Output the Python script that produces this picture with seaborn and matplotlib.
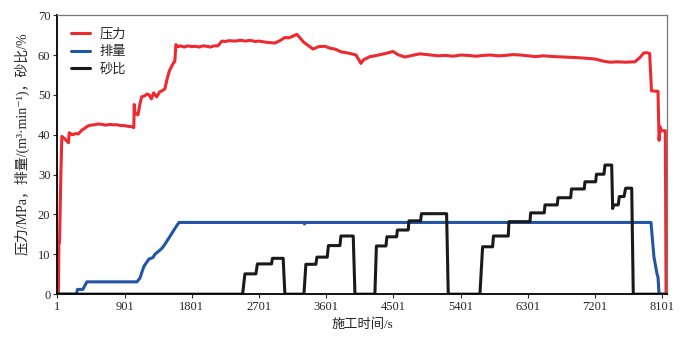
import pandas as pd
import matplotlib.pyplot as plt
import seaborn as sns

# pressure (MPa)
p_time = [1, 15, 22, 30, 48, 61, 100, 150, 160, 200, 250, 280, 320, 409, 450, 500, 550, 600, 650, 700,
          750, 800, 850, 900, 950, 1000, 1025, 1030, 1040, 1060, 1080, 1110, 1130, 1173, 1200, 1230,
          1260, 1290, 1330, 1373, 1400, 1440, 1470, 1500, 1540, 1574, 1588, 1620, 1650, 1700, 1750,
          1800, 1850, 1900, 1950, 2000, 2050, 2100, 2150, 2204, 2250, 2300, 2380, 2450, 2520, 2578,
          2650, 2700, 2800, 2913, 2980, 3047, 3100, 3150, 3208, 3300, 3423, 3500, 3583, 3650, 3717,
          3800, 3918, 4000, 4065, 4100, 4186, 4250, 4300, 4400, 4494, 4560, 4654, 4750, 4855, 4950,
          5000, 5100, 5200, 5300, 5400, 5500, 5600, 5700, 5800, 5900, 6000, 6100, 6200, 6300, 6400,
          6500, 6662, 6800, 6900, 7000, 7131, 7200, 7300, 7399, 7500, 7600, 7734, 7801, 7850, 7895,
          7930, 7955, 8042, 8056, 8070, 8090, 8140, 8150]
p_value = [0, 0.5, 13, 13, 30, 39.6, 39, 38, 40.5, 40, 40.3, 40.2, 41, 42.2, 42.4, 42.5, 42.7, 42.6, 42.4, 42.6,
           42.5, 42.5, 42.3, 42.3, 42.1, 42, 41.8, 47.6, 45.5, 45.2, 45, 48, 49.5, 49.8, 50.2, 50,
           49, 50.5, 49.5, 50.8, 51, 51.5, 54, 56, 57.5, 58.5, 62.6, 62.1, 62.3, 62.0, 62.3,
           62.1, 62.2, 62.0, 62.3, 62.2, 62.0, 62.3, 62.3, 63.5, 63.4, 63.6, 63.5, 63.7, 63.5, 63.7,
           63.4, 63.5, 63.2, 63, 63.6, 64.4, 64.3, 64.7, 65.2, 63.2, 61.5, 62.1, 62.2, 61.7, 61.5,
           60.8, 60.4, 60, 57.9, 58.8, 59.6, 59.8, 60, 60.4, 60.9, 60.1, 59.5, 59.9, 60.3, 60.1,
           60, 59.8, 59.9, 59.7, 60, 59.9, 59.7, 59.9, 60, 59.8, 59.9, 60.1, 60, 59.8, 59.6,
           59.8, 59.6, 59.5, 59.4, 59.3, 59.1, 59.0, 58.5, 58.2, 58.3, 58.2, 58.3, 59.4, 60.5, 60.6,
           60.4, 51, 50.9, 38.6, 42, 41, 41, 0]

# displacement (m3/min)
q_time = [1, 258, 270, 342, 396, 1066, 1106, 1160, 1226, 1280, 1307, 1370, 1401, 1440, 1508, 1575,
          1629, 3300, 3310, 3320, 7948, 7988, 8030, 8042, 8056, 8100]
q_value = [0, 0, 1.2, 1.2, 3.1, 3.1, 4, 7, 8.8, 9.2, 10, 11, 11.5, 12.5, 14.5, 16.5,
           18, 18, 17.6, 18, 18, 9.3, 5, 4.3, 0, 0]

# sand ratio (%)
s_time = [1, 2481, 2512, 2659, 2679, 2869, 2880, 3024, 3047,
          3302, 3328, 3462, 3476, 3614, 3630, 3784, 3797, 3962, 3985,
          4252, 4272, 4400, 4413, 4543, 4553, 4698, 4708, 4864, 4875, 5212, 5234,
          5658, 5694, 5828, 5839, 6037, 6047, 6328, 6337, 6519, 6529, 6693, 6703, 6873, 6884,
          7055, 7064, 7207, 7218, 7319, 7332, 7422, 7435, 7444, 7510, 7524, 7587, 7609, 7690,
          7711, 8150]
s_value = [0, 0, 5.1, 5.1, 7.6, 7.6, 9.0, 9.0, 0,
           0, 7.5, 7.5, 9.3, 9.3, 12.2, 12.2, 14.6, 14.6, 0,
           0, 12.1, 12.1, 14.4, 14.4, 16.1, 16.1, 18.4, 18.4, 20.2, 20.2, 0,
           0, 11.9, 11.9, 14.6, 14.6, 18.2, 18.2, 20.4, 20.4, 22.4, 22.4, 24.2, 24.2, 26.4,
           26.4, 28.2, 28.2, 30.1, 30.1, 32.4, 32.4, 21.5, 22.4, 22.4, 24.5, 24.5, 26.6, 26.6,
           0, 0]

xtick_vals = [1, 901, 1801, 2701, 3601, 4501, 5401, 6301, 7201, 8101]

sns.set_style('ticks')
plt.rcParams['font.family'] = ['Liberation Serif', 'Noto Sans CJK SC', 'DejaVu Sans']
plt.rcParams['axes.unicode_minus'] = False

df_p = pd.DataFrame({'t': p_time, 'v': p_value})
df_q = pd.DataFrame({'t': q_time, 'v': q_value})
df_s = pd.DataFrame({'t': s_time, 'v': s_value})

fig = plt.figure(figsize=(6.91, 3.37), dpi=100)
ax = fig.add_axes([0.083, 0.127, 0.882, 0.828])

sns.lineplot(x='t', y='v', data=df_p, ax=ax, color='#ee2a30', lw=2.2, label='压力',
             estimator=None, sort=False)
sns.lineplot(x='t', y='v', data=df_q, ax=ax, color='#2255a4', lw=2.2, label='排量',
             estimator=None, sort=False)
sns.lineplot(x='t', y='v', data=df_s, ax=ax, color='#1a1a1a', lw=2.2, label='砂比',
             estimator=None, sort=False)

ax.set_xlim(1, 8160)
ax.set_ylim(0, 70)
ax.set_xticks(xtick_vals)
ax.set_yticks(range(0, 71, 10))
ax.tick_params(direction='out', length=3, width=0.8, labelsize=9, pad=2)

ax.set_xlabel('施工时间/s', fontsize=9.5, labelpad=4)
ax.set_ylabel('压力/MPa，排量/(m³·min⁻¹)，砂比/%', fontsize=10)
ax.yaxis.set_label_coords(-0.045, 0.54)

for side in ['left', 'bottom']:
    ax.spines[side].set_color('black')
    ax.spines[side].set_linewidth(1.3)
for side in ['top', 'right']:
    ax.spines[side].set_color('#777777')
    ax.spines[side].set_linewidth(0.9)

ax.legend(loc='upper left', frameon=False, fontsize=9.5, handlelength=1.5,
          labelspacing=0.4, borderaxespad=0.6, handletextpad=0.7)

plt.savefig('out.png', dpi=100)
